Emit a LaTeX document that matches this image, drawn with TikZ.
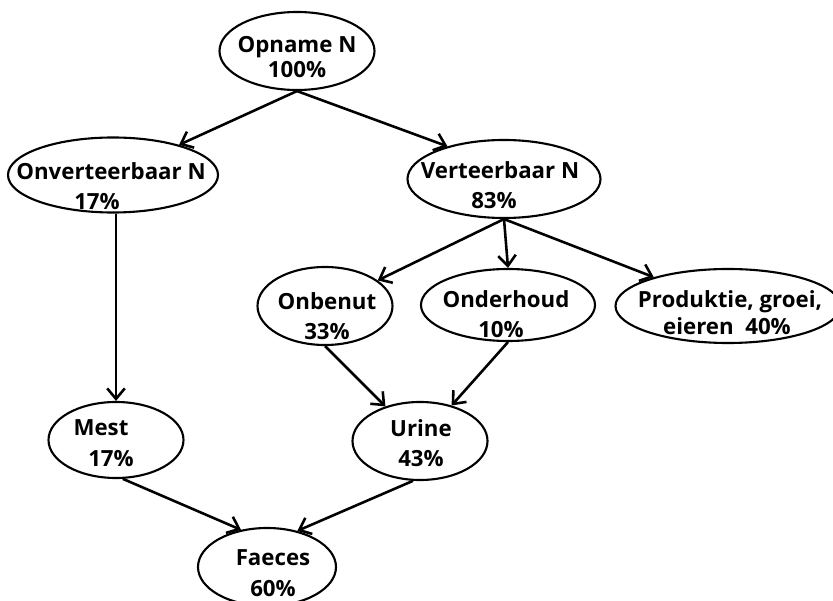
\documentclass[tikz,border=0pt]{standalone}
\usepackage{fontspec}
\setmainfont{Open Sans}
\usetikzlibrary{shapes.geometric, arrows.meta}

\tikzset{
  ovaal/.style 2 args={ellipse, draw, line width=1.8pt, inner sep=0pt,
    minimum width=#1, minimum height=#2},
  tekst/.style={align=center, inner sep=0pt, font=\fontsize{19}{26}\selectfont\bfseries},
  pijl/.style={-{Straight Barb[length=9pt,width=15pt]}, line width=2.2pt},
}

\begin{document}
\begin{tikzpicture}[x=0.03cm, y=-0.03cm]
  \useasboundingbox (0,0) rectangle (833,601);
  \clip (0,0) rectangle (833,601);

  % ovalen
  \node [ovaal={4.65cm}{2.34cm}] (opname) at (297,51) {};
  \node [ovaal={6.3cm}{2.25cm}] (onvert) at (113,175) {};
  \node [ovaal={5.79cm}{2.34cm}] (vert) at (504,179) {};
  \node [ovaal={4.05cm}{2.34cm}] (onbenut) at (325,306) {};
  \node [ovaal={5.22cm}{2.16cm}] (onderhoud) at (508,305) {};
  \node [ovaal={6.75cm}{2.22cm}] (produktie) at (728,306) {};
  \node [ovaal={4.05cm}{2.28cm}] (mest) at (116,440) {};
  \node [ovaal={4.05cm}{2.34cm}] (urine) at (420,441) {};
  \node [ovaal={4.14cm}{2.34cm}] (faeces) at (267,567) {};

  % teksten
  \node [tekst] (opname-t) at (297,57) {Opname N\\[-4pt]100\%};
  \node [tekst] (onvert-t) at (111,186) {Onverteerbaar N\\17\%\hspace*{0.84cm}};
  \node [tekst] (vert-t) at (500,185) {Verteerbaar N\\83\%\hspace*{0.36cm}};
  \node [tekst] (onbenut-t) at (327,316) {Onbenut\\33\%};
  \node [tekst] (onderhoud-t) at (506,314) {Onderhoud\\10\%\hspace*{0.3cm}};
  \node [tekst] (produktie-t) at (730,313) {Produktie, groei,\\[-3pt]eieren\ \ 40\%\hspace*{0.18cm}};
  \node [tekst] (mest-t) at (101,443) {Mest\\\hspace*{0.6cm}17\%};
  \node [tekst] (urine-t) at (421,443) {Urine\\43\%};
  \node [tekst] (faeces-t) at (273,573) {Faeces\\60\%};

  % pijlen
  \draw [pijl] (opname.south) -- (onvert);
  \draw [pijl] (opname.south) -- (vert.150);
  \draw [pijl] (vert.south) -- (onbenut);
  \draw [pijl] (vert.south) -- (onderhoud.north);
  \draw [pijl] (vert.south) -- (produktie);
  \draw [pijl] (mest.north |- onvert.south) -- (mest.north);
  \draw [pijl] (onbenut.south) -- (urine);
  \draw [pijl] (onderhoud.south) -- (urine);
  \draw [pijl] (mest.-80) -- (faeces.125);
  \draw [pijl] (urine.-100) -- (faeces.50);
\end{tikzpicture}
\end{document}
